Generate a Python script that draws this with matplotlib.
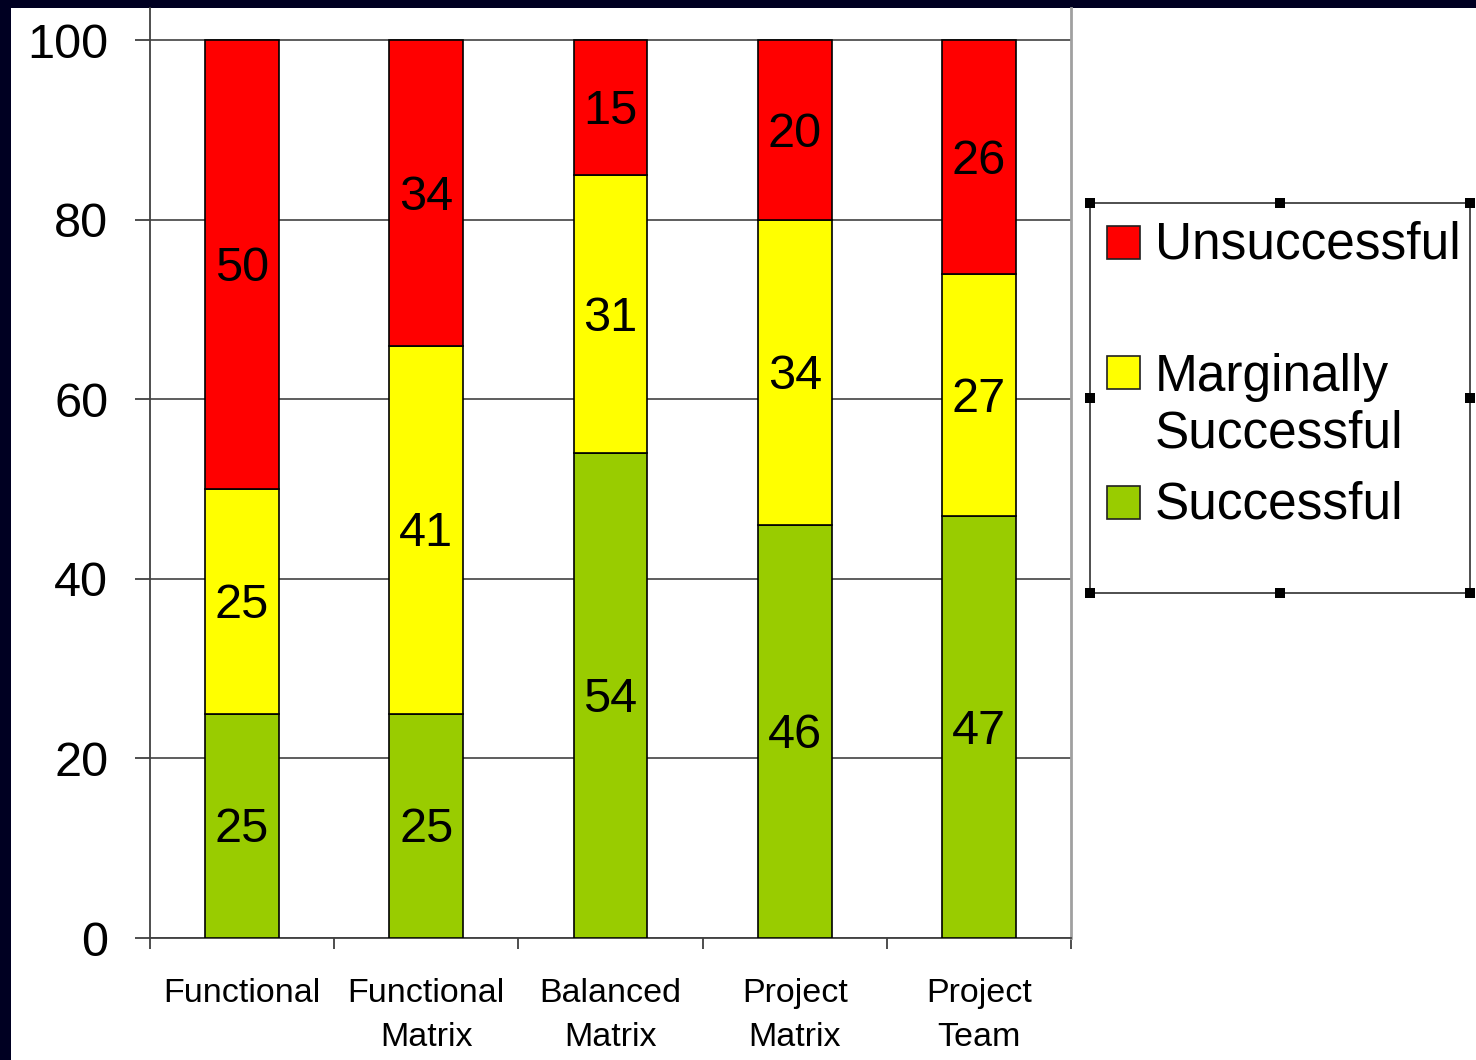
import matplotlib.pyplot as plt
import matplotlib.patches as mpatches
import numpy

plt.rcParams['font.family'] = ['Liberation Sans', 'DejaVu Sans']

categories = ['Functional', 'Functional\nMatrix', 'Balanced\nMatrix', 'Project\nMatrix', 'Project\nTeam']
successful = [25, 25, 54, 46, 47]
marginal = [25, 41, 31, 34, 27]
unsuccessful = [50, 34, 15, 20, 26]

series_names = ['Unsuccessful', 'Marginally\nSuccessful', 'Successful']
series_colors = ['#FF0000', '#FFFF00', '#99CC00']

W, H = 1476, 1060
def px(x, y):
    return x / W, 1 - y / H

fig = plt.figure(figsize=(W / 100, H / 100), dpi=100, facecolor='#000022')
# white slide area
fig.patches.append(mpatches.Rectangle(px(11, 1060), (W - 11) / W, (1060 - 8) / H,
                                      transform=fig.transFigure, facecolor='white',
                                      edgecolor='none', zorder=-5))

ax = fig.add_axes([150 / W, 122 / H, (1071 - 150) / W, (938 - 8) / H])
ax.set_facecolor('white')

x = numpy.arange(len(categories))
bw = 0.4
b1 = ax.bar(x, successful, bw, color='#99CC00', edgecolor='black', linewidth=1.2, zorder=3)
b2 = ax.bar(x, marginal, bw, bottom=successful, color='#FFFF00', edgecolor='black', linewidth=1.2, zorder=3)
bottom3 = numpy.add(successful, marginal)
b3 = ax.bar(x, unsuccessful, bw, bottom=bottom3, color='#FF0000', edgecolor='black', linewidth=1.2, zorder=3)
for b in (b1, b2, b3):
    anns = ax.bar_label(b, label_type='center', fontsize=35, color='black')
    for a in anns:
        a.xyann = (0, -3)

ax.set_xlim(-0.5, len(categories) - 0.5)
ax.set_ylim(0, 103.6)
ax.set_yticks([0, 20, 40, 60, 80, 100])
ax.yaxis.grid(True, color='#505050', linewidth=1.3, zorder=1)
ax.set_axisbelow(True)
ax.tick_params(axis='y', length=11, width=1.3, color='#404040', pad=19, labelsize=35)

# category boundaries as ticks, labels at centres
ax.set_xticks(numpy.arange(len(categories) + 1) - 0.5)
ax.set_xticklabels([])
ax.tick_params(axis='x', which='major', length=8, width=1.3, color='#404040', direction='out')
ax.set_xticks(x, minor=True)
ax.set_xticklabels(categories, minor=True, fontsize=24.5, linespacing=1.55)
ax.tick_params(axis='x', which='minor', length=0, pad=29)

ax.spines['top'].set_visible(False)
ax.spines['left'].set_color('#404040')
ax.spines['left'].set_linewidth(1.3)
ax.spines['bottom'].set_color('#404040')
ax.spines['bottom'].set_linewidth(1.3)
ax.spines['right'].set_color('#a0a0a0')
ax.spines['right'].set_linewidth(2)

# legend box drawn by hand
x0, y0, x1, y1 = 1090, 203, 1470, 593
fig.patches.append(mpatches.Rectangle(px(x0, y1), (x1 - x0) / W, (y1 - y0) / H,
                                      transform=fig.transFigure, facecolor='white',
                                      edgecolor='#303030', linewidth=1.2, zorder=5))
hs = 10
for hx in (x0, (x0 + x1) / 2, x1):
    for hy in (y0, (y0 + y1) / 2, y1):
        if hx == (x0 + x1) / 2 and hy == (y0 + y1) / 2:
            continue
        fig.patches.append(mpatches.Rectangle(px(hx - hs / 2, hy + hs / 2), hs / W, hs / H,
                                              transform=fig.transFigure, facecolor='black',
                                              edgecolor='none', zorder=6))

rows = [243, 373, 503]
text_y = [245, 406, 505]
for name, col, ry, ty in zip(series_names, series_colors, rows, text_y):
    fig.patches.append(mpatches.Rectangle(px(1107, ry + 16), 33 / W, 33 / H,
                                          transform=fig.transFigure, facecolor=col,
                                          edgecolor='#202020', linewidth=1.2, zorder=6))
    tx, tyf = px(1155, ty)
    fig.text(tx, tyf, name, fontsize=37, va='center', ha='left', linespacing=1.2, zorder=7)

fig.savefig('out.png', dpi=100, facecolor=fig.get_facecolor())
